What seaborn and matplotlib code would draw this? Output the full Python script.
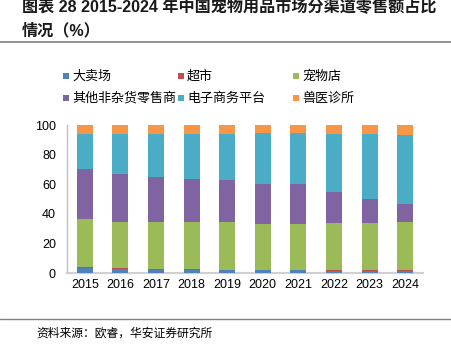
import matplotlib
matplotlib.use("Agg")
import matplotlib.pyplot as plt
import seaborn as sns
import pandas as pd
import numpy as np
from matplotlib.patches import Rectangle
from matplotlib.lines import Line2D

years = ["2015", "2016", "2017", "2018", "2019", "2020", "2021", "2022", "2023", "2024"]
series_names = ["大卖场", "超市", "宠物店", "其他非杂货零售商", "电子商务平台", "兽医诊所"]
hypermarket = [3.3, 2.5, 2.0, 1.8, 1.7, 1.7, 1.7, 1.6, 1.6, 1.6]
supermarket = [1.0, 0.8, 0.6, 0.6, 0.5, 0.6, 0.6, 0.6, 0.6, 0.6]
pet_store = [31.9, 31.4, 32.1, 32.1, 32.3, 31.0, 30.6, 31.4, 31.8, 32.0]
other_retail = [34.0, 32.2, 30.4, 28.8, 28.1, 27.1, 27.3, 21.0, 16.1, 12.3]
ecommerce = [23.5, 26.8, 28.9, 30.7, 31.4, 34.0, 34.2, 39.4, 43.6, 47.0]
vet_clinic = [6.3, 6.3, 6.0, 6.0, 6.0, 5.6, 5.6, 6.0, 6.3, 6.5]

colors = ["#4F81BD", "#C0504D", "#9BBB59", "#8064A2", "#4BACC6", "#F79646"]

sns.set_theme(style="white")
plt.rcParams['font.family'] = ['Liberation Sans', 'Noto Sans CJK SC', 'DejaVu Sans']

layers = [hypermarket, supermarket, pet_store, other_retail, ecommerce, vet_clinic]
cum = np.zeros(len(years))
cums = []
for vals in layers:
    cum = cum + np.array(vals)
    cums.append(cum.copy())

fig = plt.figure(figsize=(4.52, 3.45), dpi=100)
ax = fig.add_axes([67/452, 1-273/345, (423-67)/452, 148/345])

for i in range(len(layers) - 1, -1, -1):
    d = pd.DataFrame({"year": years, "value": cums[i]})
    sns.barplot(data=d, x="year", y="value", color=colors[i], saturation=1,
                width=0.45, ax=ax, linewidth=0, zorder=3)

ax.set_ylim(0, 100)
ax.set_xlim(-0.5, 9.5)
ax.set_yticks([0, 20, 40, 60, 80, 100])
ax.set_xlabel("")
ax.set_ylabel("")
for s in ["top", "right"]:
    ax.spines[s].set_visible(False)
ax.spines["left"].set_color("#BFBFBF")
ax.spines["left"].set_linewidth(1.0)
ax.spines["bottom"].set_color("#D0D0D0")
ax.spines["bottom"].set_linewidth(1.5)
ax.spines["bottom"].set_zorder(1)
ax.spines["left"].set_zorder(1)
ax.tick_params(axis="both", labelsize=9, colors="#000000", length=0, pad=4)
ax.tick_params(axis="y", pad=8)
for lab in ax.get_xticklabels() + ax.get_yticklabels():
    lab.set_fontfamily(['Liberation Sans', 'DejaVu Sans'])
    lab.set_color("#000000")

# Title
title_font = ['Liberation Sans', 'Noto Sans CJK SC', 'DejaVu Sans']
fig.text(22/452, 1-7/345, "图表 28 2015-2024 年中国宠物用品市场分渠道零售额占比",
         fontsize=11.6, fontweight="bold", family=title_font, ha="left", va="center",
         color="#1a1a1a")
fig.text(22/452, 1-31/345, "情况（%）", fontsize=11.6, fontweight="bold",
         family=title_font, ha="left", va="center", color="#1a1a1a")
fig.add_artist(Line2D([0, 1], [1-42/345, 1-42/345], color="#7F7F7F", linewidth=1.2,
                      transform=fig.transFigure))

# Legend (manual, Excel-like fixed columns)
leg_x = [63, 178, 293]
leg_y = [76, 98]
for k, name in enumerate(series_names):
    row, col = divmod(k, 3)
    x = leg_x[col]
    y = leg_y[row]
    fig.add_artist(Rectangle((x/452, 1-(y+3)/345), 6/452, 6/345, color=colors[k],
                             transform=fig.transFigure, linewidth=0))
    fig.text((x+9)/452, 1-y/345, name, fontsize=9.4, family=['Noto Sans CJK SC', 'DejaVu Sans'],
             ha="left", va="center", color="#000000")

# Footer
fig.add_artist(Line2D([0, 1], [1-319/345, 1-319/345], color="#7F7F7F", linewidth=1.0,
                      transform=fig.transFigure))
fig.text(36/452, 1-333/345, "资料来源：欧睿，华安证券研究所", fontsize=8.5,
         family=['Noto Sans CJK SC', 'DejaVu Sans'], ha="left", va="center", color="#000000")

fig.savefig("out.png", dpi=100)
